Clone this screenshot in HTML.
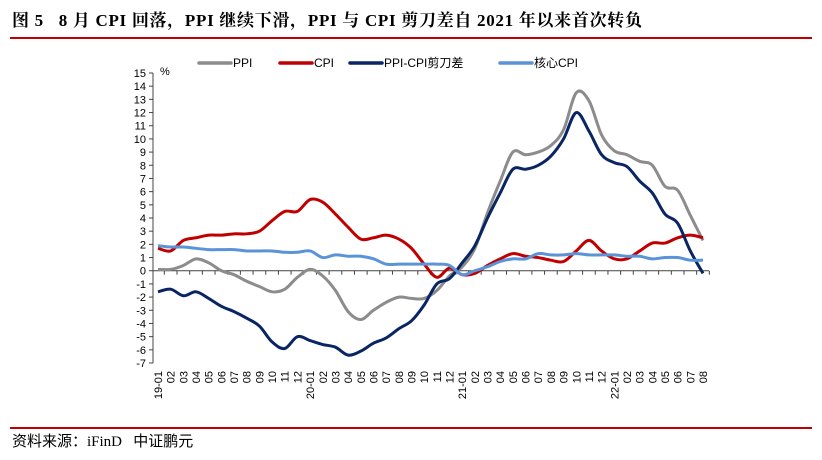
<!DOCTYPE html>
<html><head><meta charset="utf-8">
<style>
html,body{margin:0;padding:0;background:#fff;}
body{width:822px;height:460px;position:relative;overflow:hidden;font-family:"Liberation Sans","Noto Sans CJK SC",sans-serif;}
.title{position:absolute;left:12px;top:6px;font-family:"Liberation Serif","Noto Serif CJK SC",serif;font-weight:bold;font-size:17px;letter-spacing:0.7px;color:#000;white-space:nowrap;}
.rl{position:absolute;left:10px;width:802px;height:2px;background:#c00000;}
.src{position:absolute;left:12px;top:430px;font-family:"Liberation Serif","Noto Sans CJK SC",serif;font-size:15px;color:#000;}
</style></head><body>
<div class="title">图 5&nbsp;&nbsp;&nbsp;8 月 CPI 回落，PPI 继续下滑，PPI 与 CPI 剪刀差自 2021 年以来首次转负</div>
<div class="rl" style="top:37px"></div>
<div class="rl" style="top:427px"></div>
<div class="src">资料来源：iFinD&nbsp;&nbsp;&nbsp;中证鹏元</div>
<svg id="chart" width="822" height="460" style="position:absolute;left:0;top:0"></svg>
<script>
const yTicks=[15,14,13,12,11,10,9,8,7,6,5,4,3,2,1,0,-1,-2,-3,-4,-5,-6,-7];
const months=[];
for(let y=19;y<=22;y++){for(let m=1;m<=12;m++){if(y===22&&m>8)break;months.push((m===1?y+'-':'')+(m<10?'0':'')+m);}}
const ppi=[0.1,0.1,0.4,0.9,0.6,0.0,-0.3,-0.8,-1.2,-1.6,-1.4,-0.5,0.1,-0.4,-1.5,-3.1,-3.7,-3.0,-2.4,-2.0,-2.1,-2.1,-1.5,-0.4,0.3,1.7,4.4,6.8,9.0,8.8,9.0,9.5,10.7,13.5,12.9,10.3,9.1,8.8,8.3,8.0,6.4,6.1,4.2,2.3];
const cpi=[1.7,1.5,2.3,2.5,2.7,2.7,2.8,2.8,3.0,3.8,4.5,4.5,5.4,5.2,4.3,3.3,2.4,2.5,2.7,2.4,1.7,0.5,-0.5,0.2,-0.3,-0.2,0.4,0.9,1.3,1.1,1.0,0.8,0.7,1.5,2.3,1.5,0.9,0.9,1.5,2.1,2.1,2.5,2.7,2.5];
const core=[1.9,1.8,1.8,1.7,1.6,1.6,1.6,1.5,1.5,1.5,1.4,1.4,1.5,1.0,1.2,1.1,1.1,0.9,0.5,0.5,0.5,0.5,0.5,0.4,-0.3,0.0,0.3,0.7,0.9,0.9,1.3,1.2,1.2,1.3,1.2,1.2,1.2,1.1,1.1,0.9,1.0,1.0,0.8,0.8];
const gap=ppi.map((v,i)=>+(v-cpi[i]).toFixed(2));
const seriesNames=['PPI','CPI','PPI-CPI剪刀差','核心CPI'];

const NS='http://www.w3.org/2000/svg';
const svg=document.getElementById('chart');
const x0=158,x1=703,yTop=73,yBot=363,yMax=15,yMin=-7;
const X=i=>x0+(x1-x0)*i/(months.length-1);
const Y=v=>yTop+(yMax-v)*(yBot-yTop)/(yMax-yMin);
const axX=153;
function mk(tag,attrs,parent){const e=document.createElementNS(NS,tag);for(const k in attrs)e.setAttribute(k,attrs[k]);(parent||svg).appendChild(e);return e;}

const ya=mk('line',{x1:axX,y1:Y(15),x2:axX,y2:Y(-7),stroke:'#444','stroke-width':1});


yTicks.forEach(v=>{
  const t=mk('line',{x1:axX-4,y1:Y(v),x2:axX,y2:Y(v),stroke:'#444','stroke-width':1});
  
  
  const l=mk('text',{x:axX-7,y:Y(v)+4,'text-anchor':'end','font-size':11,fill:'#000'});
  l.textContent=v;
  
  
});
const pct=mk('text',{x:160,y:75,'font-size':11,fill:'#000'});
pct.textContent='%';



const xa=mk('line',{x1:axX,y1:Y(0),x2:x1+6,y2:Y(0),stroke:'#444','stroke-width':1});


const step=(x1-x0)/(months.length-1);
months.forEach((m,i)=>{
  const tx=X(i)+step/2;
  const t=mk('line',{x1:tx,y1:Y(0),x2:tx,y2:Y(0)+4,stroke:'#444','stroke-width':1});
  
  
  const l=mk('text',{x:0,y:0,'text-anchor':'end','font-size':11,fill:'#000',transform:`translate(${X(i)+4},371) rotate(-90)`});
  l.textContent=m;
  
  
});

function smooth(vals){
  const p=vals.map((v,i)=>[X(i),Y(v)]);
  let d=`M${p[0][0]},${p[0][1]}`;
  for(let i=0;i<p.length-1;i++){
    const a=p[Math.max(i-1,0)],b=p[i],c=p[i+1],e=p[Math.min(i+2,p.length-1)];
    const c1=[b[0]+(c[0]-a[0])/6,b[1]+(c[1]-a[1])/6],c2=[c[0]-(e[0]-b[0])/6,c[1]-(e[1]-b[1])/6];
    d+=` C${c1[0]},${c1[1]} ${c2[0]},${c2[1]} ${c[0]},${c[1]}`;
  }
  return d;
}
const cfg=[[ppi,'#8c8c8c','series-ppi'],[cpi,'#c00000','series-cpi'],[gap,'#0a2563','series-ppi-cpi-gap'],[core,'#5b93d9','series-core-cpi']];
cfg.forEach(([vals,col,name])=>{
  const p=mk('path',{d:smooth(vals),fill:'none',stroke:col,'stroke-width':3,'stroke-linejoin':'round'});
  
  
});

const lx=[199,280,350,500];
seriesNames.forEach((n,i)=>{
  const g=mk('g',{});
  
  
  mk('line',{x1:lx[i],y1:63,x2:lx[i]+32,y2:63,stroke:cfg[i][1],'stroke-width':3.5,'stroke-linecap':'round'},g);
  const t=mk('text',{x:lx[i]+34,y:67,'font-size':12,fill:'#000'},g);
  t.textContent=n;
});
</script>
</body></html>
